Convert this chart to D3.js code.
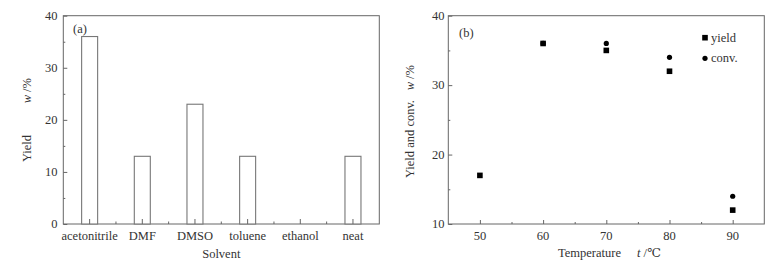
<!DOCTYPE html>
<html>
<head>
<meta charset="utf-8">
<script src="https://cdn.jsdelivr.net/npm/d3@7"></script>
<style>
  body { margin: 0; background: #fff; }
  svg text { font-family: "Liberation Serif", "DejaVu Serif", serif; fill: #333; }
</style>
</head>
<body>
<svg id="chart" width="776" height="266"></svg>
<script>
// panel (a)
const SOLVENTS = ['acetonitrile', 'DMF', 'DMSO', 'toluene', 'ethanol', 'neat'];
const SOLVENT_YIELD = [36, 13, 23, 13, 0, 13];
const Y_TICKS_A = [0, 10, 20, 30, 40];

// panel (b)
const TEMPS = [50, 60, 70, 80, 90];
const TEMP_YIELD = [17, 36, 35, 32, 12];
const CONV_TEMPS = [60, 70, 80, 90];
const TEMP_CONV = [36, 36, 34, 14];
const X_TICKS_B = [50, 60, 70, 80, 90];
const Y_TICKS_B = [10, 20, 30, 40];

const SVG = d3.select('#chart');
const AXIS_COLOR = '#666';
const FONT = 12.5;

const TOP = 15.7;
const BOTTOM = 224;

// two-part label: plain words, then italic symbol + unit placed separately
function splitLabel(g, transformA, wordsText, transformB, sym, unit) {
  g.append('text').attr('transform', transformA)
    .style('font-size', FONT + 'px').text(wordsText);
  const t = g.append('text').attr('transform', transformB)
    .attr('text-anchor', 'end').style('font-size', FONT + 'px');
  t.append('tspan').style('font-style', 'italic').text(sym);
  t.append('tspan').text(unit);
}

// ---------- (a) ----------
const XA = d3.scaleBand().domain(SOLVENTS).range([63.3, 379.3]).padding(0);
const YA = d3.scaleLinear().domain([0, 40]).range([BOTTOM, TOP]);
const A = SVG.append('g').attr('id', 'panelA');

A.append('rect')
  .attr('x', 63.3).attr('y', TOP)
  .attr('width', 316).attr('height', BOTTOM - TOP)
  .style('fill', 'none').style('stroke', AXIS_COLOR).style('stroke-width', 1);

const BAR_W = 16;
A.append('g')
  .selectAll('rect')
  .data(SOLVENTS.map((s, i) => ({ s, v: SOLVENT_YIELD[i] })).filter((d) => d.v > 0))
  .join('rect')
  .attr('x', (d) => XA(d.s) + XA.bandwidth() / 2 - BAR_W / 2)
  .attr('y', (d) => YA(d.v))
  .attr('width', BAR_W)
  .attr('height', (d) => YA(0) - YA(d.v))
  .style('fill', '#fff')
  .style('stroke', '#777')
  .style('stroke-width', 1.1);

// y axis ticks (inward)
const yAxisA = d3.axisRight(YA).tickValues(Y_TICKS_A).tickSize(4).tickFormat('');
A.append('g').attr('transform', 'translate(63.3,0)').call(yAxisA)
  .call((g) => g.select('.domain').remove())
  .selectAll('line').style('stroke', AXIS_COLOR);
const yMinorA = d3.axisRight(YA).tickValues([5, 15, 25, 35]).tickSize(2).tickFormat('');
A.append('g').attr('transform', 'translate(63.3,0)').call(yMinorA)
  .call((g) => g.select('.domain').remove())
  .selectAll('line').style('stroke', AXIS_COLOR);
A.append('g').selectAll('text')
  .data(Y_TICKS_A).join('text')
  .attr('x', 57.5).attr('y', (d) => YA(d) + 4.3)
  .attr('text-anchor', 'end').style('font-size', FONT + 'px')
  .text((d) => d);

// x ticks: majors at band centres, minors at band edges
const xMajA = SOLVENTS.map((s) => XA(s) + XA.bandwidth() / 2);
const xMinA = SOLVENTS.slice(1).map((s) => XA(s));
A.append('g').selectAll('line').data(xMajA).join('line')
  .attr('x1', (d) => d).attr('x2', (d) => d)
  .attr('y1', BOTTOM).attr('y2', BOTTOM - 5)
  .style('stroke', AXIS_COLOR);
A.append('g').selectAll('line').data(xMinA).join('line')
  .attr('x1', (d) => d).attr('x2', (d) => d)
  .attr('y1', BOTTOM).attr('y2', BOTTOM - 2.5)
  .style('stroke', AXIS_COLOR);
A.append('g').selectAll('text')
  .data(SOLVENTS).join('text')
  .attr('x', (d) => XA(d) + XA.bandwidth() / 2).attr('y', 239.5)
  .attr('text-anchor', 'middle').style('font-size', FONT + 'px')
  .text((d) => d);

A.append('text').attr('x', 221.3).attr('y', 257.5)
  .attr('text-anchor', 'middle').style('font-size', FONT + 'px').text('Solvent');
A.append('text').attr('x', 73).attr('y', 33)
  .style('font-size', FONT + 'px').text('(a)');

splitLabel(A, 'translate(31,162) rotate(-90)', 'Yield',
  'translate(31,78) rotate(-90)', 'w', ' /%');

// ---------- (b) ----------
const XB = d3.scaleLinear().domain([45, 95]).range([448.3, 764.3]);
const YB = d3.scaleLinear().domain([10, 40]).range([BOTTOM, TOP]);
const B = SVG.append('g').attr('id', 'panelB');

B.append('rect')
  .attr('x', 448.3).attr('y', TOP)
  .attr('width', 316).attr('height', BOTTOM - TOP)
  .style('fill', 'none').style('stroke', AXIS_COLOR).style('stroke-width', 1);

const yAxisB = d3.axisRight(YB).tickValues(Y_TICKS_B).tickSize(4).tickFormat('');
B.append('g').attr('transform', 'translate(448.3,0)').call(yAxisB)
  .call((g) => g.select('.domain').remove())
  .selectAll('line').style('stroke', AXIS_COLOR);
const yMinorB = d3.axisRight(YB).tickValues([15, 25, 35]).tickSize(2).tickFormat('');
B.append('g').attr('transform', 'translate(448.3,0)').call(yMinorB)
  .call((g) => g.select('.domain').remove())
  .selectAll('line').style('stroke', AXIS_COLOR);
B.append('g').selectAll('text')
  .data(Y_TICKS_B).join('text')
  .attr('x', 444.5).attr('y', (d) => YB(d) + 4.3)
  .attr('text-anchor', 'end').style('font-size', FONT + 'px')
  .text((d) => d);

const xAxisB = d3.axisTop(XB).tickValues(X_TICKS_B).tickSize(4).tickFormat('');
B.append('g').attr('transform', `translate(0,${BOTTOM})`).call(xAxisB)
  .call((g) => g.select('.domain').remove())
  .selectAll('line').style('stroke', AXIS_COLOR);
const xMinorB = d3.axisTop(XB).tickValues([55, 65, 75, 85]).tickSize(2).tickFormat('');
B.append('g').attr('transform', `translate(0,${BOTTOM})`).call(xMinorB)
  .call((g) => g.select('.domain').remove())
  .selectAll('line').style('stroke', AXIS_COLOR);
B.append('g').selectAll('text')
  .data(X_TICKS_B).join('text')
  .attr('x', (d) => XB(d)).attr('y', 239.5)
  .attr('text-anchor', 'middle').style('font-size', FONT + 'px')
  .text((d) => d);

// conv. circles first, yield squares drawn over them
B.append('g').selectAll('circle')
  .data(CONV_TEMPS.map((t, i) => ({ t, v: TEMP_CONV[i] })))
  .join('circle')
  .attr('cx', (d) => XB(d.t)).attr('cy', (d) => YB(d.v))
  .attr('r', 2.6).style('fill', '#000');
const SQ = 5.6;
B.append('g').selectAll('rect')
  .data(TEMPS.map((t, i) => ({ t, v: TEMP_YIELD[i] })))
  .join('rect')
  .attr('x', (d) => XB(d.t) - SQ / 2).attr('y', (d) => YB(d.v) - SQ / 2)
  .attr('width', SQ).attr('height', SQ).style('fill', '#000');

// legend
B.append('rect').attr('x', 705 - SQ / 2).attr('y', 37.7 - SQ / 2)
  .attr('width', SQ).attr('height', SQ).style('fill', '#000');
B.append('text').attr('x', 711).attr('y', 41.8)
  .style('font-size', FONT + 'px').text('yield');
B.append('circle').attr('cx', 705).attr('cy', 58.3).attr('r', 2.6).style('fill', '#000');
B.append('text').attr('x', 711).attr('y', 62.4)
  .style('font-size', FONT + 'px').text('conv.');

B.append('text').attr('x', 459).attr('y', 37)
  .style('font-size', FONT + 'px').text('(b)');

B.append('text').attr('x', 558).attr('y', 256.5)
  .style('font-size', FONT + 'px').text('Temperature');
const xUnitB = B.append('text').attr('x', 661).attr('y', 256.5)
  .attr('text-anchor', 'end').style('font-size', FONT + 'px');
xUnitB.append('tspan').style('font-style', 'italic').text('t');
xUnitB.append('tspan').text(' /℃');

splitLabel(B, 'translate(414,178) rotate(-90)', 'Yield and conv.',
  'translate(414,65) rotate(-90)', 'w', ' /%');
</script>
</body>
</html>
